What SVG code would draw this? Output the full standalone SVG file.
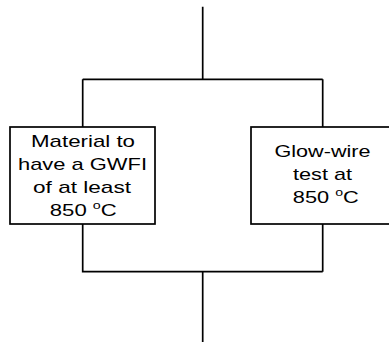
<svg xmlns="http://www.w3.org/2000/svg" width="389" height="342" viewBox="0 0 389 342">
<style>
.ln{fill:none;stroke:#000;stroke-width:1.7}
.box{fill:#fff;stroke:#000;stroke-width:1.7}
.t{font-family:"Liberation Sans",Arial,sans-serif;font-size:17px;fill:#000;text-anchor:middle}
.sup{font-size:11px}
</style>
<rect width="389" height="342" fill="#fff"/>
<g id="connectors">
<path class="ln" d="M202.7,6.7V79.3M82.7,79.3H322.7M82.7,79.3V127M322.7,79.3V127M82.7,224V271.7H322.7M322.7,224V271.7M202.7,271.7V342"/>
</g>
<g id="node-material">
<rect class="box" x="10" y="127" width="145" height="97"/>
<text class="t" x="83" y="147" textLength="104" lengthAdjust="spacingAndGlyphs">Material to</text>
<text class="t" x="82.5" y="170" textLength="129" lengthAdjust="spacingAndGlyphs">have a GWFI</text>
<text class="t" x="82" y="193" textLength="98" lengthAdjust="spacingAndGlyphs">of at least</text>
<text class="t" x="83.3" y="216" textLength="67" lengthAdjust="spacingAndGlyphs">850 <tspan class="sup" dy="-7">o</tspan><tspan dy="7">C</tspan></text>
</g>
<g id="node-glowwire">
<rect class="box" x="251" y="127" width="145" height="97"/>
<text class="t" x="322.5" y="156.5" textLength="96" lengthAdjust="spacingAndGlyphs">Glow-wire</text>
<text class="t" x="322.5" y="179.5" textLength="59" lengthAdjust="spacingAndGlyphs">test at</text>
<text class="t" x="325.8" y="202.5" textLength="66" lengthAdjust="spacingAndGlyphs">850 <tspan class="sup" dy="-7">o</tspan><tspan dy="7">C</tspan></text>
</g>
</svg>
